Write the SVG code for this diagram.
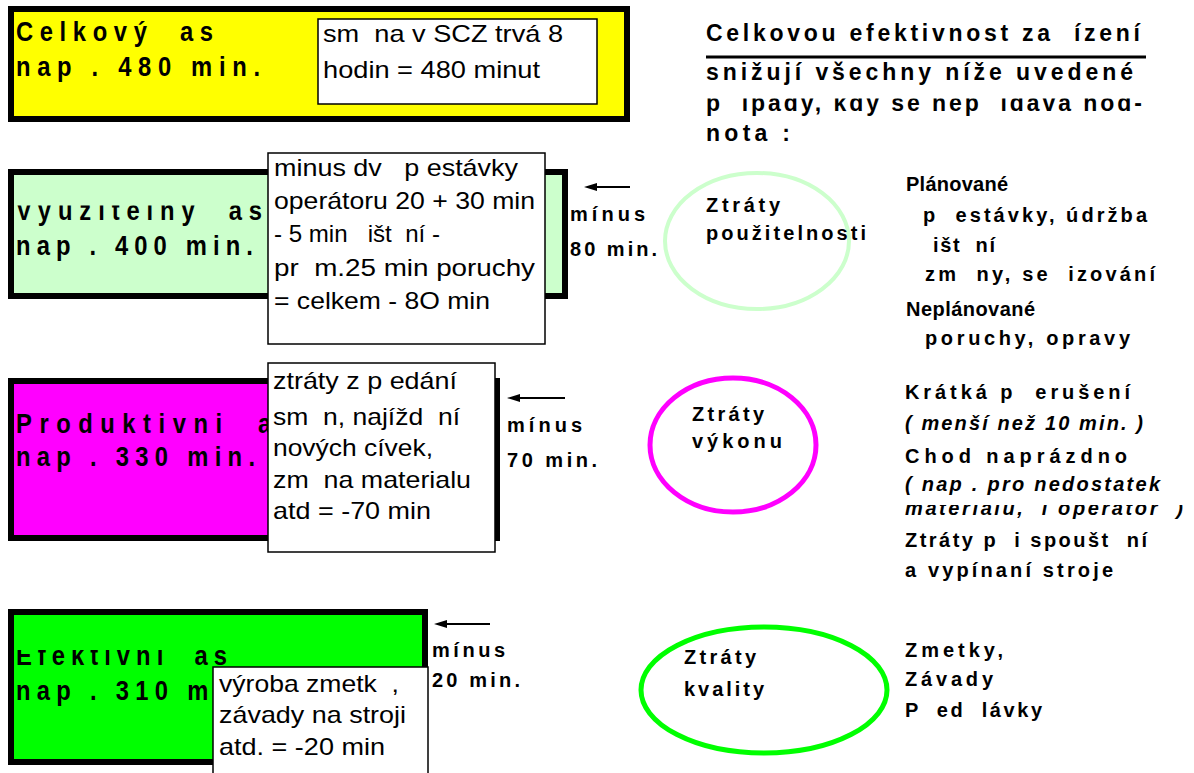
<svg xmlns="http://www.w3.org/2000/svg" width="1194" height="773" viewBox="0 0 1194 773" xml:space="preserve">
  <defs>
    <style>
      .frame { stroke: #000; stroke-width: 6; }
      .note { fill: #fff; stroke: #000; stroke-width: 1.5; }
      .big { font-family: "Liberation Sans", Arial, sans-serif; font-weight: bold; font-size: 27px; fill: #000; white-space: pre; }
      .reg { font-family: "Liberation Sans", Arial, sans-serif; font-size: 24px; fill: #000; white-space: pre; }
      .sm { font-family: "Liberation Sans", Arial, sans-serif; font-weight: bold; font-size: 20px; fill: #000; white-space: pre; }
      .hd { font-family: "Liberation Sans", Arial, sans-serif; font-weight: bold; font-size: 23px; fill: #000; white-space: pre; }
      .it { font-style: italic; }
      .loss { fill: none; }
      .arrow { stroke: #000; stroke-width: 2; fill: none; }
    </style>
    <marker id="head" viewBox="0 0 13 8" refX="1" refY="4" markerWidth="13" markerHeight="8" markerUnits="userSpaceOnUse" orient="auto">
      <path d="M0,0 L13,4 L0,8 Z" fill="#000"/>
    </marker>
    <clipPath id="clipHead3"><rect x="700" y="98.5" width="480" height="30"/></clipPath>
    <clipPath id="clipUse"><rect x="0" y="205.5" width="270" height="30"/></clipPath>
    <clipPath id="clipMat"><rect x="900" y="505" width="294" height="20"/></clipPath>
    <clipPath id="clipEff"><rect x="0" y="650" width="230" height="25"/></clipPath>
  </defs>

  <rect width="1194" height="773" fill="#fff"/>

  <!-- total time -->
  <g id="total">
    <rect class="frame" x="11" y="9" width="616" height="110" fill="#ffff00"/>
    <text class="big" transform="translate(16 41) scale(0.88 1)" textLength="223.9" lengthAdjust="spacing">Celkový  as</text>
    <text class="big" transform="translate(16 76) scale(0.88 1)" textLength="277.3" lengthAdjust="spacing">nap . 480 min.</text>
    <rect class="note" x="318" y="19" width="279" height="85"/>
    <text class="reg" x="323" y="42" textLength="240" lengthAdjust="spacingAndGlyphs">sm  na v SCZ trvá 8</text>
    <text class="reg" x="323" y="78" textLength="217" lengthAdjust="spacingAndGlyphs">hodin = 480 minut</text>
  </g>

  <!-- heading on the right -->
  <g id="heading">
    <text class="hd" x="706" y="41" textLength="434" lengthAdjust="spacing">Celkovou efektivnost za  ízení</text>
    <line x1="706" y1="57" x2="1146" y2="57" stroke="#000" stroke-width="3"/>
    <text class="hd" x="706" y="80" textLength="427" lengthAdjust="spacing">snižují všechny níže uvedené</text>
    <text class="hd" x="706" y="111" textLength="436" lengthAdjust="spacing" clip-path="url(#clipHead3)">p  ípady, kdy se nep  ídává hod-</text>
    <text class="hd" x="706" y="141" textLength="84" lengthAdjust="spacing">nota :</text>
  </g>

  <!-- usable time -->
  <g id="usable">
    <rect class="frame" x="11" y="172" width="554" height="124" fill="#ccffcc"/>
    <g clip-path="url(#clipUse)">
      <text class="big" transform="translate(16 220) scale(0.88 1)" textLength="279.5" lengthAdjust="spacing">Využitelný  as</text>
    </g>
    <text class="big" transform="translate(16 255) scale(0.88 1)" textLength="269.3" lengthAdjust="spacing">nap . 400 min.</text>
    <rect class="note" x="268" y="153" width="277" height="191"/>
    <text class="reg" x="274" y="176" textLength="244" lengthAdjust="spacingAndGlyphs">minus dv   p estávky</text>
    <text class="reg" x="274" y="209" textLength="261" lengthAdjust="spacingAndGlyphs">operátoru 20 + 30 min</text>
    <text class="reg" x="274" y="242" textLength="166" lengthAdjust="spacingAndGlyphs">- 5 min   išt  ní -</text>
    <text class="reg" x="274" y="276" textLength="261" lengthAdjust="spacingAndGlyphs">pr  m.25 min poruchy</text>
    <text class="reg" x="274" y="309" textLength="216" lengthAdjust="spacingAndGlyphs">= celkem - 8O min</text>
    <text class="sm" x="570" y="221" textLength="75" lengthAdjust="spacing">mínus</text>
    <text class="sm" x="570" y="256" textLength="87" lengthAdjust="spacing">80 min.</text>
  </g>

  <!-- productive time -->
  <g id="productive">
    <rect class="frame" x="11" y="381" width="486" height="157" fill="#ff00ff"/>
    <text class="big" transform="translate(16 433) scale(0.88 1)" textLength="313.6" lengthAdjust="spacing">Produktivni  as</text>
    <text class="big" transform="translate(16 466) scale(0.88 1)" textLength="271.6" lengthAdjust="spacing">nap . 330 min.</text>
    <rect class="note" x="268" y="363" width="227" height="189"/>
    <text class="reg" x="273" y="389" textLength="184" lengthAdjust="spacingAndGlyphs">ztráty z p edání</text>
    <text class="reg" x="273" y="425" textLength="187" lengthAdjust="spacingAndGlyphs">sm  n, najížd  ní</text>
    <text class="reg" x="273" y="456" textLength="160" lengthAdjust="spacingAndGlyphs">nových cívek,</text>
    <text class="reg" x="273" y="488" textLength="198" lengthAdjust="spacingAndGlyphs">zm  na materialu</text>
    <text class="reg" x="273" y="519" textLength="158" lengthAdjust="spacingAndGlyphs">atd = -70 min</text>
    <text class="sm" x="507" y="432" textLength="75" lengthAdjust="spacing">mínus</text>
    <text class="sm" x="507" y="467" textLength="90" lengthAdjust="spacing">70 min.</text>
  </g>

  <!-- effective time -->
  <g id="effective">
    <rect class="frame" x="11" y="612" width="414" height="150" fill="#00ff00"/>
    <g clip-path="url(#clipEff)">
      <text class="big" transform="translate(16 665) scale(0.88 1)" textLength="239.8" lengthAdjust="spacing">Efektivní  as</text>
    </g>
    <text class="big" transform="translate(16 700) scale(0.88 1)" textLength="218.6" lengthAdjust="spacing">nap . 310 m</text>
    <rect class="note" x="213" y="667" width="215" height="112"/>
    <text class="reg" x="219" y="692" textLength="180" lengthAdjust="spacingAndGlyphs">výroba zmetk  ,</text>
    <text class="reg" x="219" y="723" textLength="187" lengthAdjust="spacingAndGlyphs">závady na stroji</text>
    <text class="reg" x="219" y="755" textLength="166" lengthAdjust="spacingAndGlyphs">atd. = -20 min</text>
    <text class="sm" x="432" y="657" textLength="73" lengthAdjust="spacing">mínus</text>
    <text class="sm" x="432" y="687" textLength="88" lengthAdjust="spacing">20 min.</text>
  </g>

  <!-- availability losses -->
  <g id="loss-availability">
    <ellipse class="loss" cx="757" cy="241" rx="92" ry="68" stroke="#ccffcc" stroke-width="4"/>
    <text class="sm" x="706" y="212" textLength="74" lengthAdjust="spacing">Ztráty</text>
    <text class="sm" x="706" y="240" textLength="160" lengthAdjust="spacing">použitelnosti</text>
  </g>
  <g id="list-availability">
    <text class="sm" x="906" y="191" textLength="102" lengthAdjust="spacing">Plánované</text>
    <text class="sm" x="923" y="222" textLength="224" lengthAdjust="spacing">p  estávky, údržba</text>
    <text class="sm" x="933" y="252" textLength="62" lengthAdjust="spacing">išt  ní</text>
    <text class="sm" x="925" y="281" textLength="230" lengthAdjust="spacing">zm  ny, se  izování</text>
    <text class="sm" x="906" y="316" textLength="129" lengthAdjust="spacing">Neplánované</text>
    <text class="sm" x="925" y="345" textLength="205" lengthAdjust="spacing">poruchy, opravy</text>
  </g>

  <!-- performance losses -->
  <g id="loss-performance">
    <ellipse class="loss" cx="733" cy="445" rx="83" ry="67" stroke="#ff00ff" stroke-width="5"/>
    <text class="sm" x="692" y="421" textLength="72" lengthAdjust="spacing">Ztráty</text>
    <text class="sm" x="692" y="448" textLength="90" lengthAdjust="spacing">výkonu</text>
  </g>
  <g id="list-performance">
    <text class="sm" x="905" y="399" textLength="225" lengthAdjust="spacing">Krátká p  erušení</text>
    <text class="sm it" x="905" y="430" textLength="238" lengthAdjust="spacing">( menší než 10 min. )</text>
    <text class="sm" x="905" y="463" textLength="222" lengthAdjust="spacing">Chod naprázdno</text>
    <text class="sm it" x="905" y="491" textLength="255" lengthAdjust="spacing">( nap . pro nedostatek</text>
    <text class="sm it" x="905" y="515" textLength="278" lengthAdjust="spacing" clip-path="url(#clipMat)">materiálu,  i operátor  )</text>
    <text class="sm" x="905" y="547" textLength="242" lengthAdjust="spacing">Ztráty p  i spoušt  ní</text>
    <text class="sm" x="905" y="577" textLength="208" lengthAdjust="spacing">a vypínaní stroje</text>
  </g>

  <!-- quality losses -->
  <g id="loss-quality">
    <ellipse class="loss" cx="764" cy="690" rx="123" ry="63" stroke="#00ff00" stroke-width="5"/>
    <text class="sm" x="684" y="664" textLength="72" lengthAdjust="spacing">Ztráty</text>
    <text class="sm" x="684" y="696" textLength="80" lengthAdjust="spacing">kvality</text>
  </g>
  <g id="list-quality">
    <text class="sm" x="905" y="657" textLength="98" lengthAdjust="spacing">Zmetky,</text>
    <text class="sm" x="905" y="686" textLength="88" lengthAdjust="spacing">Závady</text>
    <text class="sm" x="905" y="717" textLength="137" lengthAdjust="spacing">P  ed  lávky</text>
  </g>

  <!-- subtraction arrows -->
  <g id="connectors">
    <line class="arrow" x1="630" y1="187" x2="596" y2="187" marker-end="url(#head)"/>
    <line class="arrow" x1="565" y1="398" x2="519" y2="398" marker-end="url(#head)"/>
    <line class="arrow" x1="490" y1="624" x2="446" y2="624" marker-end="url(#head)"/>
  </g>
</svg>
